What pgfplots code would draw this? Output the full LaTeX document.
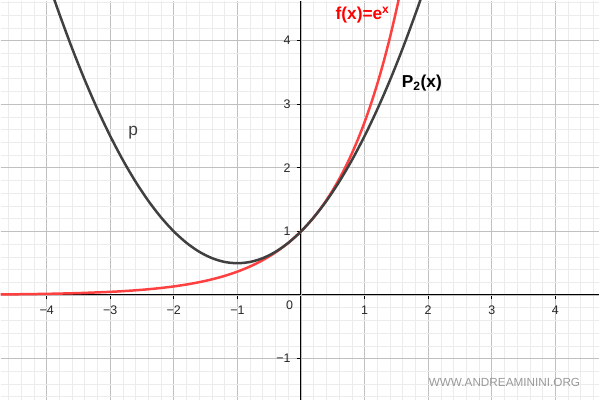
\documentclass[border=0pt]{standalone}
\usepackage{fontspec}
\setmainfont{Liberation Sans}
\usepackage{pgfplots}
\pgfplotsset{compat=1.18}
\definecolor{fred}{RGB}{255,64,64}
\definecolor{pdark}{RGB}{64,64,64}
\definecolor{majg}{RGB}{192,192,192}
\definecolor{ming}{RGB}{236,236,236}
\begin{document}
\begin{tikzpicture}
\begin{axis}[
  scale only axis,
  width=6in, height=4in,
  xmin=-4.725, xmax=4.694,
  ymin=-1.648, ymax=4.631,
  axis lines=middle,
  axis line style={-, black, line width=0.8pt},
  xtick={-4,-3,-2,-1,1,2,3,4},
  xticklabels={−4,−3,−2,−1,1,2,3,4},
  ytick={-1,1,2,3,4},
  yticklabels={−1,1,2,3,4},
  minor xtick={-4.6,-4.4,...,4.61},
  minor ytick={-1.6,-1.4,...,4.61},
  extra x ticks={0},
  extra x tick labels={},
  extra y ticks={0},
  extra y tick labels={},
  extra tick style={grid=major, major tick length=0pt},
  grid=both,
  major grid style={majg, line width=0.6pt},
  minor grid style={ming, line width=0.5pt},
  major tick length=3pt,
  minor tick length=0pt,
  tick align=outside,
  tick style={black, line width=0.6pt},
  ticklabel style={font=\fontsize{9}{10}\selectfont, text=black!85},
  xticklabel style={yshift=-1.5pt},
  yticklabel style={xshift=-1pt},
  clip=true,
]
\addplot[fred, line width=1.8pt, smooth] coordinates {
(-4.8,0.00823) (-4.5,0.01111) (-4.0,0.01832) (-3.5,0.03020) (-3.0,0.04979)
(-2.8,0.06081) (-2.6,0.07427) (-2.4,0.09072) (-2.2,0.11080) (-2.0,0.13534)
(-1.8,0.16530) (-1.6,0.20190) (-1.4,0.24660) (-1.2,0.30119) (-1.0,0.36788)
(-0.8,0.44933) (-0.6,0.54881) (-0.4,0.67032) (-0.2,0.81873) (0,1)
(0.1,1.10517) (0.2,1.22140) (0.3,1.34986) (0.4,1.49182) (0.5,1.64872)
(0.6,1.82212) (0.7,2.01375) (0.8,2.22554) (0.9,2.45960) (1.0,2.71828)
(1.1,3.00417) (1.2,3.32012) (1.3,3.66930) (1.4,4.05520) (1.5,4.48169)
(1.55,4.71147)
};
\addplot[pdark, line width=1.8pt, smooth] coordinates {
(-3.9,4.705) (-3.8,4.42) (-3.6,3.88) (-3.4,3.38) (-3.2,2.92) (-3.0,2.5)
(-2.8,2.12) (-2.6,1.78) (-2.4,1.48) (-2.2,1.22) (-2.0,1) (-1.8,0.82)
(-1.6,0.68) (-1.4,0.58) (-1.2,0.52) (-1.0,0.5) (-0.8,0.52) (-0.6,0.58)
(-0.4,0.68) (-0.2,0.82) (0,1) (0.2,1.22) (0.4,1.48) (0.6,1.78) (0.8,2.12)
(1.0,2.5) (1.2,2.92) (1.4,3.38) (1.6,3.88) (1.8,4.42) (1.9,4.705)
};
\node[anchor=north east, font=\fontsize{9}{10}\selectfont, text=black!85, inner sep=0pt, xshift=-5.5pt, yshift=-4pt] at (axis cs:0,0) {0};
\node[text=red, font=\fontsize{12.5}{14}\bfseries\selectfont] at (axis cs:0.97,4.41) {f(x)=e\textsuperscript{x}};
\node[text=black, font=\fontsize{12.5}{14}\bfseries\selectfont] at (axis cs:1.9,3.33) {P\textsubscript{2}(x)};
\node[text=pdark, font=\fontsize{12.5}{14}\selectfont] at (axis cs:-2.64,2.56) {p};
\node[text=black!40, font=\fontsize{8.5}{10}\selectfont] at (axis cs:3.2,-1.38) {WWW.ANDREAMININI.ORG};
\end{axis}
\end{tikzpicture}
\end{document}
